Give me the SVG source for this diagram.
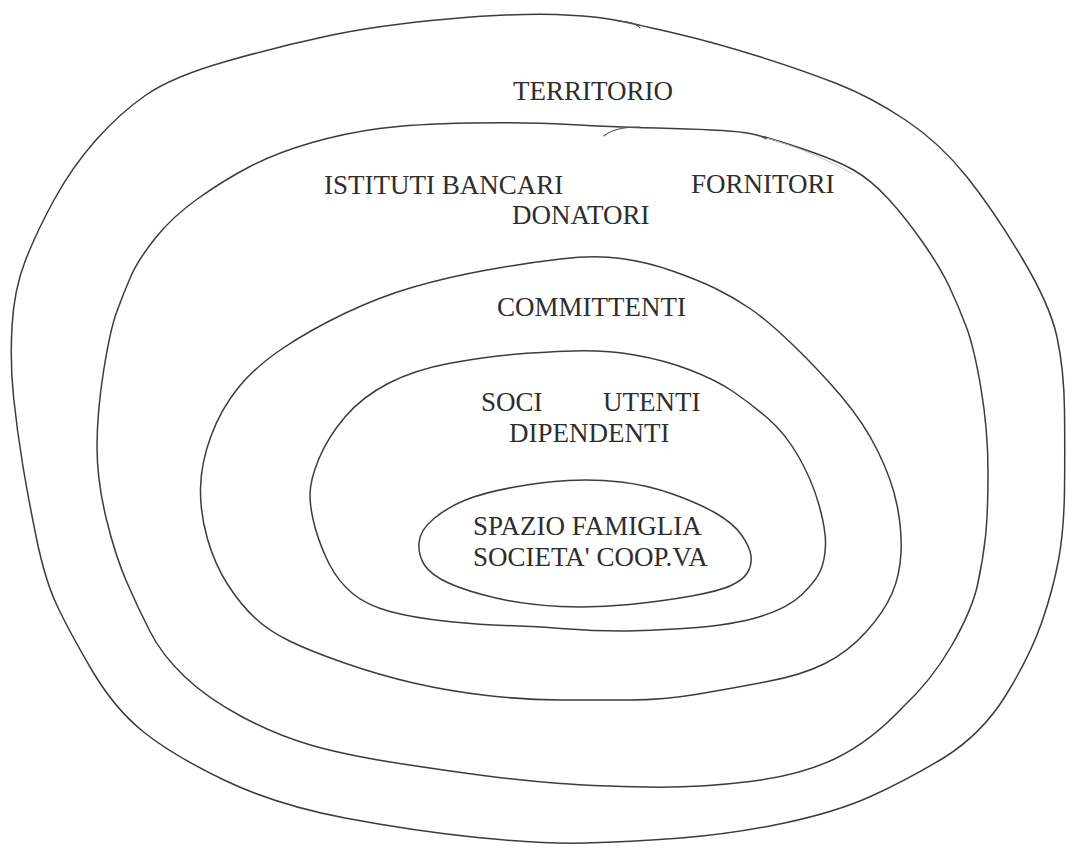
<svg xmlns="http://www.w3.org/2000/svg" width="1066" height="848" viewBox="0 0 1066 848">
<style>
.ring{fill:none;stroke:#3c3c3c;stroke-width:1.5;stroke-linejoin:round;stroke-linecap:round}
.mark{fill:none;stroke:#555;stroke-width:1.1;stroke-linecap:round}
.faint{fill:none;stroke:#bdbdbd;stroke-width:0.9}
.lbl{font-family:"Liberation Serif","Times New Roman",serif;font-size:27px;fill:#2e2e2e}
</style>
<rect width="1066" height="848" fill="#ffffff"/>
<g id="territorio">
<path class="ring" d="M 327.5,36 Q 379,25 448,19 Q 517,13 556,14.5 Q 595,16 617.5,20.5 Q 640,25 678,34 Q 716,43 759,56.5 Q 802,70 836.5,83.5 Q 871,97 905.5,120 Q 940,143 967,177 Q 994,211 1022,258 Q 1050,305 1057,337 Q 1064,370 1064.5,410 Q 1065,450 1064.5,490 Q 1064,530 1058.5,560 Q 1053,590 1041.5,623 Q 1030,656 1006,695 Q 982,734 943.5,758 Q 905,781 870.5,796.5 Q 836,812 784.5,823 Q 733,834 681,838 Q 629,842 585,843 Q 541,844 477.5,837.5 Q 414,831 345,818 Q 276,805 224,780 Q 172,755 143,731.5 Q 114,708 91.5,669.5 Q 69,631 57,605.5 Q 45,580 36.5,538.5 Q 28,497 22.5,463.5 Q 17,430 13.5,396.5 Q 10,363 12,326.5 Q 14,290 25,261.5 Q 36,233 54,200 Q 72,167 96,140 Q 120,113 146,95 Q 172,77 224,62 Q 276,47 327.5,36 Z"/>
<path class="mark" d="M 618,21 Q 636,22 640,28"/>
<path class="mark" d="M 711,42 L 715,44"/>
<text class="lbl" x="513" y="100">TERRITORIO</text>
</g>
<g id="istituti">
<path class="ring" d="M 379.5,128.5 Q 414,124 470,123 Q 526,122 569,124.5 Q 612,127 672.5,128.5 Q 733,130 750,133.5 Q 767,137 801.5,148.5 Q 836,160 853.5,170 Q 871,180 888,198.5 Q 905,217 922.5,242 Q 940,267 949,286 Q 958,305 966,326 Q 974,347 981,388.5 Q 988,430 988,471.5 Q 988,513 985.5,536.5 Q 983,560 977.5,585 Q 972,610 952,645 Q 932,680 902,708 Q 871,741 836.5,758 Q 802,775 750,781.5 Q 698,788 646.5,787 Q 595,786 560.5,783.5 Q 526,781 487,776 Q 448,771 396.5,763 Q 345,755 310.5,745 Q 276,735 241.5,716.5 Q 207,698 184.5,676.5 Q 162,655 150,631.5 Q 138,608 126.5,581.5 Q 115,555 106,517.5 Q 97,480 97,446.5 Q 97,413 103.5,371.5 Q 110,330 117,311 Q 124,292 131,276 Q 138,260 155,238.5 Q 172,217 198,198.5 Q 224,180 250,166.5 Q 276,153 310.5,143 Q 345,133 379.5,128.5 Z"/>
<path class="mark" d="M 640,127 Q 614,127 604,136"/>
<path class="mark" d="M 760,136 L 766,139"/>
<path class="faint" d="M 767,138 Q 815,152 853,174"/>
<text class="lbl" x="324" y="194">ISTITUTI BANCARI</text>
<text class="lbl" x="691" y="193">FORNITORI</text>
<text class="lbl" x="512" y="224">DONATORI</text>
</g>
<g id="committenti">
<path class="ring" d="M 344.5,313.5 Q 379,297 413.5,287 Q 448,277 487,270 Q 526,263 560.5,259 Q 595,255 621,258.5 Q 647,262 672.5,271 Q 698,280 715.5,288.5 Q 733,297 750,308.5 Q 767,320 793,345 Q 819,370 841.5,396.5 Q 864,423 878,451.5 Q 892,480 897,505 Q 902,530 901,552.5 Q 900,575 892,593.5 Q 884,612 866,632 Q 848,652 825,663.5 Q 802,675 767.5,681.5 Q 733,688 698.5,694 Q 664,700 629.5,700 Q 595,700 560.5,700 Q 526,700 487,695.5 Q 448,691 413.5,683 Q 379,675 344.5,663 Q 310,651 289.5,641 Q 269,631 255,618 Q 241,605 228,585 Q 215,565 207.5,539 Q 200,513 200.5,488 Q 201,463 211,436 Q 221,409 238,388 Q 255,367 282.5,348.5 Q 310,330 344.5,313.5 Z"/>
<text class="lbl" x="497" y="316">COMMITTENTI</text>
</g>
<g id="soci">
<path class="ring" d="M 388,383.5 Q 414,370 448.5,363.5 Q 483,357 512,354.5 Q 541,352 573,351 Q 605,350 634.5,355 Q 664,360 690,370 Q 716,380 733,391.5 Q 750,403 767.5,418 Q 785,433 798.5,456.5 Q 812,480 819,505 Q 826,530 825.5,545 Q 825,560 820.5,570.5 Q 816,581 802,594.5 Q 788,608 760.5,616.5 Q 733,625 690,628 Q 647,631 621,631 Q 595,631 560.5,628.5 Q 526,626 504.5,625.5 Q 483,625 448.5,621.5 Q 414,618 390,611.5 Q 366,605 352,593 Q 338,581 329.5,564.5 Q 321,548 315.5,529 Q 310,510 310,495 Q 310,480 319,458.5 Q 328,437 345,417 Q 362,397 388,383.5 Z"/>
<text class="lbl" x="481" y="411">SOCI</text>
<text class="lbl" x="603" y="411">UTENTI</text>
<text class="lbl" x="509" y="442">DIPENDENTI</text>
</g>
<g id="spazio-famiglia">
<path class="ring" d="M 465.5,500 Q 483,493 512,487.5 Q 541,482 568,480.5 Q 595,479 621,482 Q 647,485 672.5,494 Q 698,503 715.5,513 Q 733,523 741.5,535 Q 750,547 751,556 Q 752,565 747.5,572.5 Q 743,580 731,585.5 Q 719,591 691.5,596 Q 664,601 629.5,604.5 Q 595,608 560.5,606.5 Q 526,605 496,598 Q 466,591 448.5,583 Q 431,575 424.5,565 Q 418,555 419,542.5 Q 420,530 434,518.5 Q 448,507 465.5,500 Z"/>
<text class="lbl" x="473" y="535">SPAZIO FAMIGLIA</text>
<text class="lbl" x="473" y="566">SOCIETA' COOP.VA</text>
</g>
<g id="connectors"></g>
</svg>
